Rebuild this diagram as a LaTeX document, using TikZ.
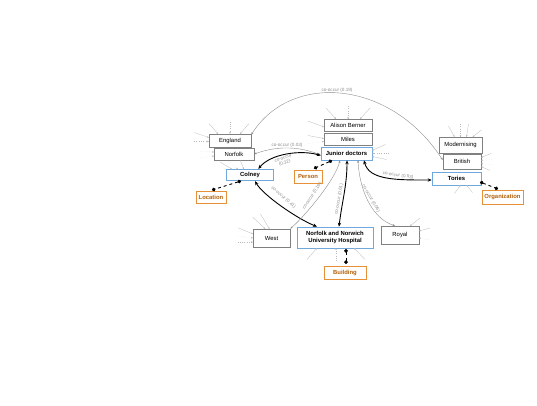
\documentclass[tikz,border=0pt]{standalone}
\usepackage{fontspec}
\setmainfont{Liberation Sans}
\usetikzlibrary{arrows.meta,calc}
\definecolor{entblue}{HTML}{6FA8DC}
\definecolor{typeorange}{HTML}{E69138}
\definecolor{typetext}{HTML}{B45F06}
\definecolor{edgegray}{HTML}{8C8C8C}
\definecolor{stubgray}{HTML}{BABABA}
\newcommand{\nodefont}{\fontsize{5.9}{6.7}\selectfont}
\begin{document}
\begin{tikzpicture}[x=1pt,y=1pt,
  tok/.style={draw=gray,line width=0.6pt,fill=white,font=\nodefont,inner sep=0pt},
  ent/.style={draw=entblue,line width=0.7pt,fill=white,font=\nodefont\bfseries,inner sep=0pt,align=center},
  typ/.style={draw=typeorange,line width=0.9pt,fill=white,text=typetext,font=\nodefont\bfseries,inner sep=0pt},
  cooc/.style={edgegray,line width=0.4pt,{Stealth[length=2.5pt,width=2pt]}-{Stealth[length=2.5pt,width=2pt]}},
  strong/.style={black,line width=0.9pt,{Stealth[length=4pt,width=3.4pt]}-{Stealth[length=4pt,width=3.4pt]}},
  typelink/.style={black,line width=0.9pt,dashed,{Circle[length=3.6pt]}-{Circle[length=3.6pt]}},
  stub/.style={stubgray,line width=0.3pt,-{Stealth[length=2pt,width=1.6pt]}},
  lbl/.style={edgegray,font=\fontsize{4.6}{5}\selectfont,inner sep=0.3pt,align=center}]
  \useasboundingbox (0,0) rectangle (537,-405);
  % context tokens
  \node[tok,minimum width=42,minimum height=13] (england) at (230,-140.5) {England};
  \node[tok,minimum width=40,minimum height=12] (norfolk) at (234,-154) {Norfolk};
  \node[tok,minimum width=48,minimum height=12] (alison) at (348,-125) {Alison Berner};
  \node[tok,minimum width=48,minimum height=11.5] (miles) at (348,-139.5) {Miles};
  \node[tok,minimum width=43,minimum height=16] (modern) at (460.5,-145) {Modernising};
  \node[tok,minimum width=38,minimum height=15] (british) at (462,-161.5) {British};
  \node[tok,minimum width=37,minimum height=18] (west) at (271.5,-238) {West};
  \node[tok,minimum width=38,minimum height=18] (royal) at (400,-235) {Royal};
  % entities
  \node[ent,minimum width=47,minimum height=11.5] (colney) at (250,-175) {Colney};
  \node[ent,minimum width=51,minimum height=13] (junior) at (346.5,-153.5) {Junior doctors};
  \node[ent,minimum width=49,minimum height=13] (tories) at (456.5,-178.5) {Tories};
  \node[ent,minimum width=76,minimum height=21] (nnuh) at (335,-237.5) {Norfolk and Norwich\\University Hospital};
  % entity types
  \node[typ,minimum width=30,minimum height=12] (location) at (211,-197) {Location};
  \node[typ,minimum width=28,minimum height=13] (person) at (308,-176.5) {Person};
  \node[typ,minimum width=41,minimum height=14] (organization) at (502.5,-197) {Organization};
  \node[typ,minimum width=42,minimum height=13] (building) at (345,-272.5) {Building};

  % short context arrows
  \foreach \tx/\ty/\sx/\sy/\st in {-12/6.5/-21/17/solid,0/6.5/0/19/dotted,10/6.5/19/17/solid,-21/3/-36/8/solid,-21/-1/-36/-1/dotted}
    \draw[stub,\st] ($(england)+(\sx,\sy)$) -- ($(england)+(\tx,\ty)$);
  \foreach \tx/\ty/\sx/\sy/\st in {-20/2/-36/3/dotted,-20/-2/-36/-4/dotted}
    \draw[stub,\st] ($(norfolk)+(\sx,\sy)$) -- ($(norfolk)+(\tx,\ty)$);
  \foreach \tx/\ty/\sx/\sy/\st in {-18/5.75/-30/13/solid,-12/5.75/-21/14/dotted,-6/5.75/-10/15/solid}
    \draw[stub,\st] ($(colney)+(\sx,\sy)$) -- ($(colney)+(\tx,\ty)$);
  \foreach \tx/\ty/\sx/\sy/\st in {-12/6/-22/17/solid,0/6/0/19/dotted,12/6/22/17/solid,-24/-2/-40/4/solid}
    \draw[stub,\st] ($(alison)+(\sx,\sy)$) -- ($(alison)+(\tx,\ty)$);
  \foreach \tx/\ty/\sx/\sy/\st in {-24/1/-40/4/solid,-24/-2/-40/-4/dotted}
    \draw[stub,\st] ($(miles)+(\sx,\sy)$) -- ($(miles)+(\tx,\ty)$);
  \foreach \tx/\ty/\sx/\sy/\st in {25.5/3/39/9/solid,25.5/0/42/0/dotted,25.5/-3/40/-6/solid}
    \draw[stub,\st] ($(junior)+(\sx,\sy)$) -- ($(junior)+(\tx,\ty)$);
  \foreach \tx/\ty/\sx/\sy/\st in {-6/8/-12/19/solid,0/8/0/21/dotted,6/8/8/21/solid,12/8/21/15/solid}
    \draw[stub,\st] ($(modern)+(\sx,\sy)$) -- ($(modern)+(\tx,\ty)$);
  \foreach \tx/\ty/\sx/\sy/\st in {19/4/29/8/solid,19/1/30/2/dotted,19/-2/30/-3/dotted,19/-5/28/-9/solid}
    \draw[stub,\st] ($(british)+(\sx,\sy)$) -- ($(british)+(\tx,\ty)$);
  \foreach \tx/\ty/\sx/\sy/\st in {4/-6.5/-2/-15/solid,10/-6.5/16/-14/solid}
    \draw[stub,\st] ($(tories)+(\sx,\sy)$) -- ($(tories)+(\tx,\ty)$);
  \foreach \tx/\ty/\sx/\sy/\st in {-6/9/-19/21/solid,-2/9/-11/24/solid,-18.5/4/-33/10/solid,-18.5/0/-34/2/dotted,-18.5/-4/-34/-4/dotted}
    \draw[stub,\st] ($(west)+(\sx,\sy)$) -- ($(west)+(\tx,\ty)$);
  \foreach \tx/\ty/\sx/\sy/\st in {-18/-10.5/-28/-22/solid,1/-10.5/1/-23/dotted,19/-10.5/30/-22/solid}
    \draw[stub,\st] ($(nnuh)+(\sx,\sy)$) -- ($(nnuh)+(\tx,\ty)$);
  \foreach \tx/\ty/\sx/\sy/\st in {10/9/20/17/solid,19/4/30/7/solid,19/-3/30/-5/dotted}
    \draw[stub,\st] ($(royal)+(\sx,\sy)$) -- ($(royal)+(\tx,\ty)$);

  % co-occurrence edges
  \draw[cooc] ($(england.north east)+(0,-1)$) .. controls +(39,62) and +(-53,81.5) .. ($(british.west)+(0,1.5)$);
  \node[lbl] (l19) at (337,-90.5) {co-occur (0.19)};
  \draw[cooc] (norfolk.east) .. controls +(25,9) and +(-20,8) .. ($(junior.west)+(0,-1.5)$);
  \node[lbl] (l03) at (287,-145) {co-occur (0.03)};
  \draw[strong] ($(colney.north east)+(-15.5,0)$) .. controls +(12,15) and +(-20,6) .. ($(junior.west)+(0,-2)$);
  \node[lbl,rotate=18] (l32) at (284,-161) {co-occur\\(0.32)};
  \draw[strong] ($(junior.south)+(17.5,0)$) .. controls +(5,-20) and +(-35,0) .. ($(tories.west)+(0,-1.5)$);
  \node[lbl,rotate=-8] (l53) at (398,-175.5) {co-occur (0.53)};
  \draw[strong] ($(colney.south)+(5,0)$) .. controls +(8,-14) and +(-20,8) .. ($(nnuh.north)+(-18,0)$);
  \node[lbl,rotate=-41] (l41) at (283.5,-197.5) {co-occur (0.41)};
  \draw[cooc] (west.north east) .. controls +(14,12) and +(-5,-20) .. ($(junior.south)+(-6.5,0)$);
  \node[lbl,rotate=57] (l16) at (312,-196) {co-occur (0.16)};
  \draw[strong] ($(junior.south)+(0.5,0)$) .. controls +(0,-25) and +(3,25) .. ($(nnuh.north)+(4,0)$);
  \node[lbl,rotate=80] (l61) at (339,-199) {co-occur (0.61)};
  \draw[cooc] ($(junior.south)+(11.5,0)$) .. controls +(2,-35) and +(-20,6) .. ($(royal.north)+(-5,0)$);
  \node[lbl,rotate=-60] (l06) at (371,-198.5) {co-occur (0.06)};

  % entity type links
  \draw[typelink] ($(colney)+(-9,-6)$) -- ($(location)+(1,7)$);
  \draw[typelink] ($(junior)+(-14.5,-7)$) -- ($(person)+(6,8)$);
  \draw[typelink] ($(tories)+(23.5,-3.5)$) -- ($(organization)+(-4.5,8)$);
  \draw[typelink] ($(nnuh)+(11,-11.5)$) -- ($(building)+(1,8.5)$);
\end{tikzpicture}
\end{document}
